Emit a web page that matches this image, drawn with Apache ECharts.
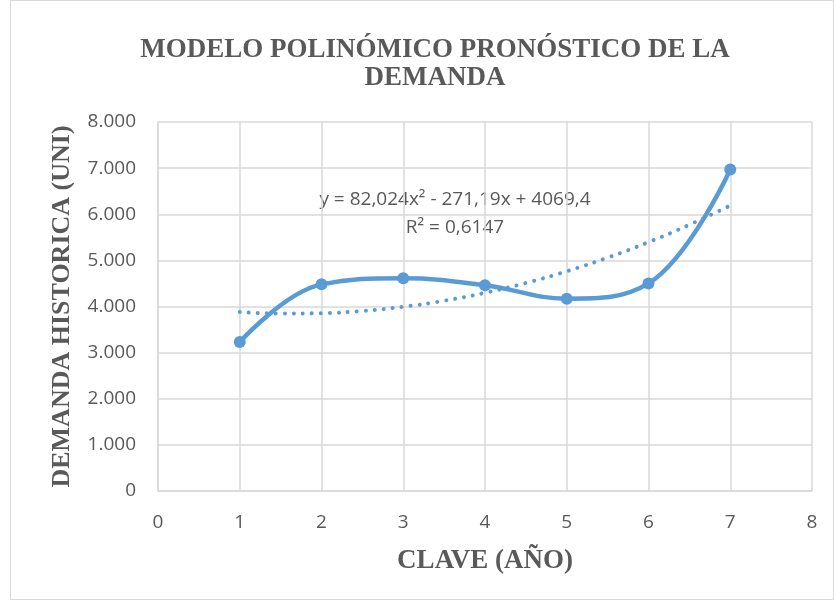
<!DOCTYPE html>
<html><head><meta charset="utf-8">
<script src="https://cdn.jsdelivr.net/npm/echarts@6/dist/echarts.min.js"></script>
<style>html,body{margin:0;padding:0;background:#fff}#c{width:834px;height:600px}</style>
</head><body><div id="c"></div>
<script>
const years = [1, 2, 3, 4, 5, 6, 7];
const demand = [3230, 4480, 4610, 4460, 4170, 4500, 6970];
const trendX = [1, 1.5, 2, 2.5, 3, 3.5, 4, 4.5, 5, 5.5, 6, 6.5, 7];
const trendY = [3880, 3847, 3855, 3904, 3994, 4125, 4297, 4510, 4764, 5059, 5395, 5772, 6190];
const xTicks = [0, 1, 2, 3, 4, 5, 6, 7, 8];
const yTicks = [0, 1000, 2000, 3000, 4000, 5000, 6000, 7000, 8000];
const titleText = 'MODELO POLINÓMICO PRONÓSTICO DE LA\nDEMANDA';
const eqText = 'y = 82,024x² - 271,19x + 4069,4';
const r2Text = 'R² = 0,6147';

const chart = echarts.init(document.getElementById('c'), null, {renderer: 'canvas'});
const fmt = v => String(v).replace(/\B(?=(\d{3})+(?!\d))/g, '.');
chart.setOption({
  animation: false,
  backgroundColor: '#fff',
  title: {
    text: titleText, left: 430, top: 31, textAlign: 'center',
    textStyle: {fontFamily: 'Liberation Serif', fontWeight: 'bold', fontSize: 27, color: '#595959', lineHeight: 28}
  },
  grid: {left: 158, right: 22, top: 122, bottom: 109},
  xAxis: {
    type: 'value', min: xTicks[0], max: xTicks[xTicks.length - 1], interval: 1,
    name: 'CLAVE (AÑO)', nameLocation: 'middle', nameGap: 57,
    nameTextStyle: {fontFamily: 'Liberation Serif', fontWeight: 'bold', fontSize: 27, color: '#595959'},
    axisLine: {show: true, lineStyle: {color: '#d9d9d9', width: 1.5}},
    axisTick: {show: false},
    axisLabel: {fontFamily: 'Open Sans', fontSize: 19, color: '#595959', margin: 22},
    splitLine: {show: true, lineStyle: {color: '#d9d9d9', width: 1.5}}
  },
  yAxis: {
    type: 'value', min: yTicks[0], max: yTicks[yTicks.length - 1], interval: 1000,
    name: 'DEMANDA HISTORICA (UNI)', nameLocation: 'middle', nameGap: 83,
    nameTextStyle: {fontFamily: 'Liberation Serif', fontWeight: 'bold', fontSize: 26, color: '#595959'},
    axisLine: {show: true, lineStyle: {color: '#d9d9d9', width: 1.5}},
    axisTick: {show: false},
    axisLabel: {fontFamily: 'Open Sans', fontSize: 19, color: '#595959', margin: 22, formatter: fmt},
    splitLine: {show: true, lineStyle: {color: '#d9d9d9', width: 1.5}}
  },
  series: [
    {
      type: 'line', data: trendX.map((x, i) => [x, trendY[i]]), smooth: true, showSymbol: false,
      lineStyle: {color: '#5b9bd5', width: 4, type: [0.01, 9], cap: 'round'}, z: 2
    },
    {
      type: 'line', data: years.map((x, i) => [x, demand[i]]), smooth: 0.4,
      symbol: 'circle', symbolSize: 12,
      itemStyle: {color: '#5b9bd5'},
      lineStyle: {color: '#5b9bd5', width: 4.5}, z: 3
    }
  ],
  graphic: [
    {type: 'rect', shape: {x: 10.5, y: 0.5, width: 823, height: 599}, style: {fill: null, stroke: '#d9d9d9', lineWidth: 1}, silent: true},
    {type: 'text', x: 455, y: 200, style: {text: eqText, fontFamily: 'Open Sans', fontSize: 19, fill: '#595959', align: 'center', verticalAlign: 'middle'}},
    {type: 'text', x: 455, y: 228, style: {text: r2Text, fontFamily: 'Open Sans', fontSize: 19, fill: '#595959', align: 'center', verticalAlign: 'middle'}}
  ]
});
</script></body></html>
